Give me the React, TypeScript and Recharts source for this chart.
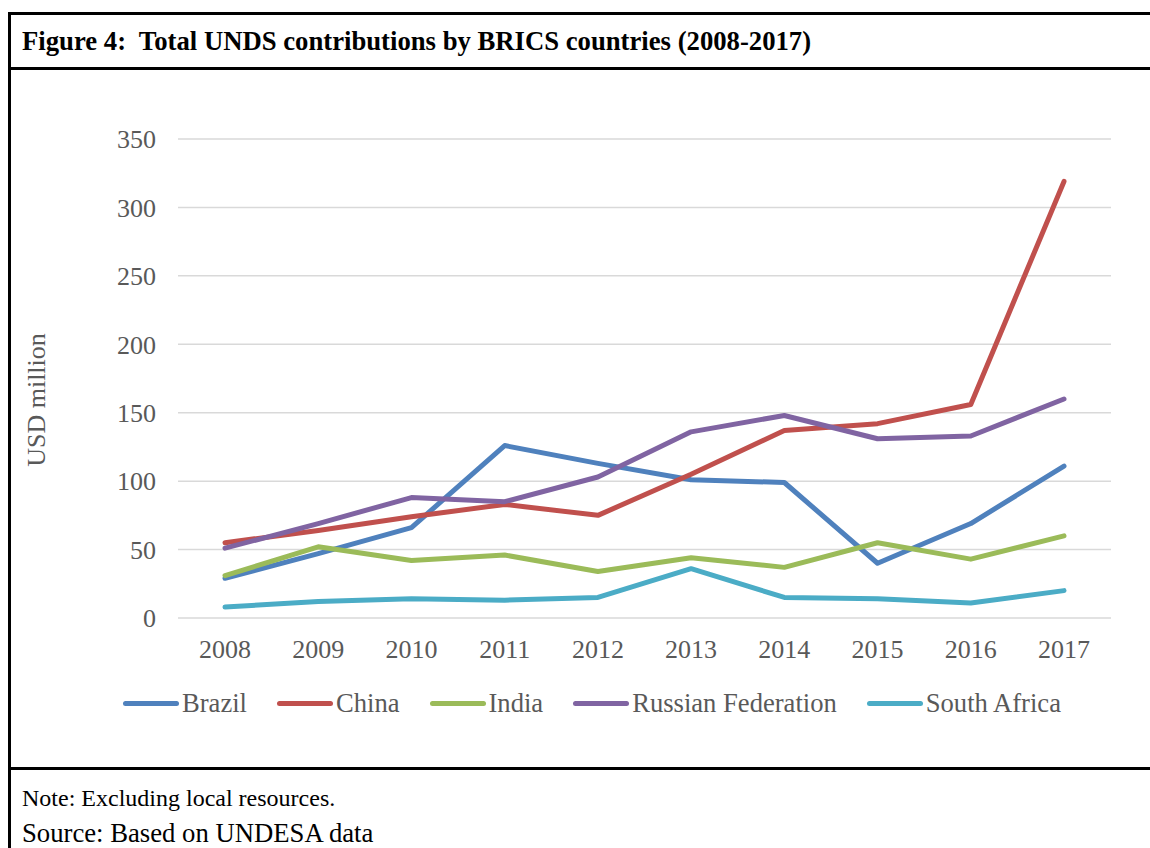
import React from 'react';
import { LineChart, Line, XAxis, YAxis, CartesianGrid, Legend } from 'recharts';

const years = ['2008', '2009', '2010', '2011', '2012', '2013', '2014', '2015', '2016', '2017'];
const brazil = [29, 47, 66, 126, 113, 101, 99, 40, 69, 111];
const china = [55, 64, 74, 83, 75, 105, 137, 142, 156, 319];
const india = [31, 52, 42, 46, 34, 44, 37, 55, 43, 60];
const russia = [51, 69, 88, 85, 103, 136, 148, 131, 133, 160];
const southAfrica = [8, 12, 14, 13, 15, 36, 15, 14, 11, 20];
const yTicks = [0, 50, 100, 150, 200, 250, 300, 350];

const series = [
  { key: 'Brazil', values: brazil, color: '#4F81BD' },
  { key: 'China', values: china, color: '#C0504D' },
  { key: 'India', values: india, color: '#9BBB59' },
  { key: 'Russian Federation', values: russia, color: '#8064A2' },
  { key: 'South Africa', values: southAfrica, color: '#4BACC6' },
];

const data = years.map((year, i) => {
  const row: Record<string, string | number> = { year };
  series.forEach((s) => {
    row[s.key] = s.values[i];
  });
  return row;
});

const FONT = '"Liberation Serif", "Times New Roman", serif';
const GREY = '#595959';

function YLabel() {
  return (
    <text x={36} y={400} transform="rotate(-90 36 400)" textAnchor="middle" dominantBaseline="central"
      fill={GREY} fontSize={26} fontFamily={FONT}>
      USD million
    </text>
  );
}

function LegendContent({ payload }: any) {
  return (
    <div style={{ display: 'flex', paddingLeft: 123, fontFamily: FONT, fontSize: 26.6, color: GREY, lineHeight: '30px' }}>
      {(payload || []).map((p: any) => (
        <div key={p.value} style={{ display: 'flex', alignItems: 'center', marginRight: 30 }}>
          <span style={{ display: 'inline-block', width: 56, height: 5, borderRadius: 3, background: p.color, marginRight: 3 }} />
          <span>{p.value}</span>
        </div>
      ))}
    </div>
  );
}

export default function App() {
  return (
    <div style={{ position: 'absolute', left: 0, top: 0, width: 1150, height: 848, overflow: 'hidden', background: '#fff', fontFamily: FONT }}>
      <div style={{ position: 'absolute', left: 8, top: 12, width: 1160, height: 900, borderLeft: '3px solid #000', borderTop: '3px solid #000' }} />
      <div style={{ position: 'absolute', left: 8, top: 67, width: 1160, height: 3, background: '#000' }} />
      <div style={{ position: 'absolute', left: 8, top: 767, width: 1160, height: 3, background: '#000' }} />
      <div style={{ position: 'absolute', left: 22, top: 26, fontSize: 26.7, fontWeight: 'bold', color: '#000', whiteSpace: 'pre', lineHeight: '30px' }}>
        {'Figure 4:  Total UNDS contributions by BRICS countries (2008-2017)'}
      </div>
      <div style={{ position: 'absolute', left: 0, top: 0 }}>
        <LineChart width={1150} height={766} data={data} margin={{ top: 139, right: 39, left: 0, bottom: 58 }}>
          <CartesianGrid vertical={false} stroke="#D9D9D9" strokeWidth={1.5} />
          <XAxis dataKey="year" axisLine={false} tickLine={false} tickSize={0} tickMargin={22} height={60}
            padding={{ left: 47, right: 47 }} tick={{ fill: GREY, fontSize: 26, fontFamily: FONT }} interval={0} />
          <YAxis domain={[0, 350]} ticks={yTicks} axisLine={false} tickLine={false} tickSize={0} tickMargin={22} width={178}
            tick={{ fill: GREY, fontSize: 26, fontFamily: FONT }} label={<YLabel />} />
          <Legend content={<LegendContent />} wrapperStyle={{ position: 'absolute', left: 0, top: 688, width: 1150 }} />
          {series.map((s) => (
            <Line key={s.key} type="linear" dataKey={s.key} stroke={s.color} strokeWidth={5} dot={false}
              strokeLinecap="round" strokeLinejoin="round" isAnimationActive={false} />
          ))}
        </LineChart>
      </div>
      <div style={{ position: 'absolute', left: 22, top: 783, fontSize: 24, color: '#000', lineHeight: '30px' }}>
        Note: Excluding local resources.
      </div>
      <div style={{ position: 'absolute', left: 22, top: 817, fontSize: 26.7, color: '#000', lineHeight: '32px' }}>
        Source: Based on UNDESA data
      </div>
    </div>
  );
}
